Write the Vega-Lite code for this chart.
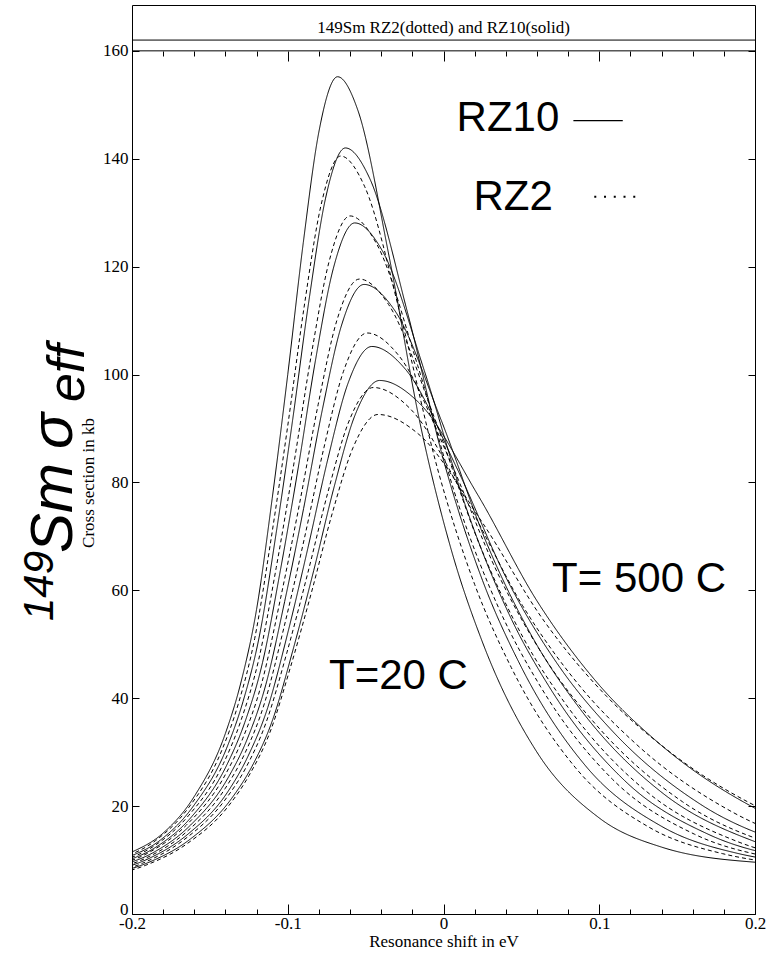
{
 "$schema": "https://vega.github.io/schema/vega-lite/v6.json",
 "width": 623, "height": 909,
 "autosize": {"type": "none"},
 "padding": {"left": 132, "top": 5, "right": 12, "bottom": 44},
 "background": "white",
 "config": {
  "view": {"stroke": "black", "strokeWidth": 1},
  "axis": {"grid": false, "domain": false, "tickColor": "black", "labelColor": "black", "titleColor": "black", "tickWidth": 1}
 },
 "datasets": {
  "curves": [
   {"c":"S1","m":"RZ10","x":-0.2,"y":11.5},{"c":"S1","m":"RZ10","x":-0.18,"y":15.0},{"c":"S1","m":"RZ10","x":-0.16,"y":21.8},{"c":"S1","m":"RZ10","x":-0.14,"y":33.5},{"c":"S1","m":"RZ10","x":-0.13,"y":43.0},{"c":"S1","m":"RZ10","x":-0.12,"y":56.5},{"c":"S1","m":"RZ10","x":-0.11,"y":77.0},{"c":"S1","m":"RZ10","x":-0.10,"y":100.0},{"c":"S1","m":"RZ10","x":-0.09,"y":124.5},{"c":"S1","m":"RZ10","x":-0.08,"y":145.0},{"c":"S1","m":"RZ10","x":-0.068,"y":155.2},{"c":"S1","m":"RZ10","x":-0.055,"y":149.0},{"c":"S1","m":"RZ10","x":-0.035,"y":122.0},{"c":"S1","m":"RZ10","x":-0.015,"y":90.9},{"c":"S1","m":"RZ10","x":0.005,"y":67.5},{"c":"S1","m":"RZ10","x":0.025,"y":50.4},{"c":"S1","m":"RZ10","x":0.06,"y":30.0},{"c":"S1","m":"RZ10","x":0.10,"y":17.8},{"c":"S1","m":"RZ10","x":0.14,"y":12.4},{"c":"S1","m":"RZ10","x":0.20,"y":9.6},
   {"c":"D1","m":"RZ2","x":-0.2061,"y":10.4},{"c":"D1","m":"RZ2","x":-0.1849,"y":13.6},{"c":"D1","m":"RZ2","x":-0.1637,"y":19.7},{"c":"D1","m":"RZ2","x":-0.1424,"y":30.3},{"c":"D1","m":"RZ2","x":-0.1318,"y":38.9},{"c":"D1","m":"RZ2","x":-0.1212,"y":51.1},{"c":"D1","m":"RZ2","x":-0.1106,"y":69.7},{"c":"D1","m":"RZ2","x":-0.1,"y":90.5},{"c":"D1","m":"RZ2","x":-0.0894,"y":112.7},{"c":"D1","m":"RZ2","x":-0.0787,"y":131.3},{"c":"D1","m":"RZ2","x":-0.066,"y":140.5},{"c":"D1","m":"RZ2","x":-0.0507,"y":134.9},{"c":"D1","m":"RZ2","x":-0.0271,"y":110.4},{"c":"D1","m":"RZ2","x":-0.0036,"y":82.3},{"c":"D1","m":"RZ2","x":0.02,"y":61.1},{"c":"D1","m":"RZ2","x":0.0435,"y":45.7},{"c":"D1","m":"RZ2","x":0.0848,"y":27.1},{"c":"D1","m":"RZ2","x":0.1319,"y":16.1},{"c":"D1","m":"RZ2","x":0.179,"y":11.2},{"c":"D1","m":"RZ2","x":0.2497,"y":8.7},
   {"c":"S2","m":"RZ10","x":-0.203,"y":10.5},{"c":"S2","m":"RZ10","x":-0.1818,"y":13.7},{"c":"S2","m":"RZ10","x":-0.1606,"y":20.0},{"c":"S2","m":"RZ10","x":-0.1393,"y":30.7},{"c":"S2","m":"RZ10","x":-0.1287,"y":39.4},{"c":"S2","m":"RZ10","x":-0.1181,"y":51.7},{"c":"S2","m":"RZ10","x":-0.1075,"y":70.5},{"c":"S2","m":"RZ10","x":-0.0969,"y":91.5},{"c":"S2","m":"RZ10","x":-0.0863,"y":113.9},{"c":"S2","m":"RZ10","x":-0.0757,"y":132.7},{"c":"S2","m":"RZ10","x":-0.063,"y":142.0},{"c":"S2","m":"RZ10","x":-0.0473,"y":136.3},{"c":"S2","m":"RZ10","x":-0.0232,"y":111.6},{"c":"S2","m":"RZ10","x":0.0009,"y":83.2},{"c":"S2","m":"RZ10","x":0.0251,"y":61.8},{"c":"S2","m":"RZ10","x":0.0492,"y":46.2},{"c":"S2","m":"RZ10","x":0.0914,"y":27.4},{"c":"S2","m":"RZ10","x":0.1397,"y":16.3},{"c":"S2","m":"RZ10","x":0.1879,"y":11.3},{"c":"S2","m":"RZ10","x":0.2603,"y":8.8},
   {"c":"D2","m":"RZ2","x":-0.209,"y":9.6},{"c":"D2","m":"RZ2","x":-0.1864,"y":12.5},{"c":"D2","m":"RZ2","x":-0.1638,"y":18.2},{"c":"D2","m":"RZ2","x":-0.1413,"y":27.9},{"c":"D2","m":"RZ2","x":-0.13,"y":35.9},{"c":"D2","m":"RZ2","x":-0.1187,"y":47.1},{"c":"D2","m":"RZ2","x":-0.1074,"y":64.2},{"c":"D2","m":"RZ2","x":-0.0961,"y":83.4},{"c":"D2","m":"RZ2","x":-0.0848,"y":103.8},{"c":"D2","m":"RZ2","x":-0.0735,"y":120.9},{"c":"D2","m":"RZ2","x":-0.06,"y":129.4},{"c":"D2","m":"RZ2","x":-0.0429,"y":124.2},{"c":"D2","m":"RZ2","x":-0.0166,"y":101.7},{"c":"D2","m":"RZ2","x":0.0097,"y":75.8},{"c":"D2","m":"RZ2","x":0.0361,"y":56.3},{"c":"D2","m":"RZ2","x":0.0624,"y":42.1},{"c":"D2","m":"RZ2","x":0.1084,"y":25.0},{"c":"D2","m":"RZ2","x":0.1611,"y":14.8},{"c":"D2","m":"RZ2","x":0.2137,"y":10.3},{"c":"D2","m":"RZ2","x":0.2926,"y":8.0},
   {"c":"S3","m":"RZ10","x":-0.2073,"y":9.5},{"c":"S3","m":"RZ10","x":-0.1846,"y":12.4},{"c":"S3","m":"RZ10","x":-0.1618,"y":18.0},{"c":"S3","m":"RZ10","x":-0.139,"y":27.7},{"c":"S3","m":"RZ10","x":-0.1276,"y":35.5},{"c":"S3","m":"RZ10","x":-0.1162,"y":46.6},{"c":"S3","m":"RZ10","x":-0.1048,"y":63.6},{"c":"S3","m":"RZ10","x":-0.0934,"y":82.5},{"c":"S3","m":"RZ10","x":-0.0821,"y":102.8},{"c":"S3","m":"RZ10","x":-0.0707,"y":119.7},{"c":"S3","m":"RZ10","x":-0.057,"y":128.1},{"c":"S3","m":"RZ10","x":-0.0394,"y":123.0},{"c":"S3","m":"RZ10","x":-0.0123,"y":100.7},{"c":"S3","m":"RZ10","x":0.0148,"y":75.1},{"c":"S3","m":"RZ10","x":0.0419,"y":55.7},{"c":"S3","m":"RZ10","x":0.069,"y":41.6},{"c":"S3","m":"RZ10","x":0.1164,"y":24.7},{"c":"S3","m":"RZ10","x":0.1706,"y":14.7},{"c":"S3","m":"RZ10","x":0.2248,"y":10.2},{"c":"S3","m":"RZ10","x":0.3061,"y":7.9},
   {"c":"D3","m":"RZ2","x":-0.2132,"y":8.7},{"c":"D3","m":"RZ2","x":-0.1891,"y":11.4},{"c":"D3","m":"RZ2","x":-0.165,"y":16.5},{"c":"D3","m":"RZ2","x":-0.1409,"y":25.4},{"c":"D3","m":"RZ2","x":-0.1288,"y":32.6},{"c":"D3","m":"RZ2","x":-0.1167,"y":42.8},{"c":"D3","m":"RZ2","x":-0.1047,"y":58.4},{"c":"D3","m":"RZ2","x":-0.0926,"y":75.8},{"c":"D3","m":"RZ2","x":-0.0805,"y":94.4},{"c":"D3","m":"RZ2","x":-0.0685,"y":110.0},{"c":"D3","m":"RZ2","x":-0.054,"y":117.7},{"c":"D3","m":"RZ2","x":-0.0353,"y":113.0},{"c":"D3","m":"RZ2","x":-0.0065,"y":92.5},{"c":"D3","m":"RZ2","x":0.0224,"y":69.0},{"c":"D3","m":"RZ2","x":0.0512,"y":51.2},{"c":"D3","m":"RZ2","x":0.08,"y":38.3},{"c":"D3","m":"RZ2","x":0.1304,"y":22.7},{"c":"D3","m":"RZ2","x":0.1881,"y":13.5},{"c":"D3","m":"RZ2","x":0.2457,"y":9.4},{"c":"D3","m":"RZ2","x":0.3322,"y":7.3},
   {"c":"S4","m":"RZ10","x":-0.2112,"y":8.7},{"c":"S4","m":"RZ10","x":-0.1869,"y":11.3},{"c":"S4","m":"RZ10","x":-0.1627,"y":16.4},{"c":"S4","m":"RZ10","x":-0.1384,"y":25.2},{"c":"S4","m":"RZ10","x":-0.1262,"y":32.3},{"c":"S4","m":"RZ10","x":-0.1141,"y":42.5},{"c":"S4","m":"RZ10","x":-0.102,"y":57.9},{"c":"S4","m":"RZ10","x":-0.0898,"y":75.2},{"c":"S4","m":"RZ10","x":-0.0777,"y":93.6},{"c":"S4","m":"RZ10","x":-0.0656,"y":109.0},{"c":"S4","m":"RZ10","x":-0.051,"y":116.7},{"c":"S4","m":"RZ10","x":-0.0316,"y":112.0},{"c":"S4","m":"RZ10","x":-0.0017,"y":91.7},{"c":"S4","m":"RZ10","x":0.0282,"y":68.4},{"c":"S4","m":"RZ10","x":0.0581,"y":50.8},{"c":"S4","m":"RZ10","x":0.088,"y":37.9},{"c":"S4","m":"RZ10","x":0.1403,"y":22.5},{"c":"S4","m":"RZ10","x":0.2001,"y":13.4},{"c":"S4","m":"RZ10","x":0.2599,"y":9.3},{"c":"S4","m":"RZ10","x":0.3496,"y":7.2},
   {"c":"D4","m":"RZ2","x":-0.2161,"y":8.0},{"c":"D4","m":"RZ2","x":-0.1908,"y":10.4},{"c":"D4","m":"RZ2","x":-0.1655,"y":15.1},{"c":"D4","m":"RZ2","x":-0.1401,"y":23.3},{"c":"D4","m":"RZ2","x":-0.1275,"y":29.8},{"c":"D4","m":"RZ2","x":-0.1148,"y":39.2},{"c":"D4","m":"RZ2","x":-0.1022,"y":53.4},{"c":"D4","m":"RZ2","x":-0.0895,"y":69.4},{"c":"D4","m":"RZ2","x":-0.0768,"y":86.4},{"c":"D4","m":"RZ2","x":-0.0642,"y":100.6},{"c":"D4","m":"RZ2","x":-0.049,"y":107.7},{"c":"D4","m":"RZ2","x":-0.0284,"y":103.4},{"c":"D4","m":"RZ2","x":0.0032,"y":84.7},{"c":"D4","m":"RZ2","x":0.0349,"y":63.1},{"c":"D4","m":"RZ2","x":0.0665,"y":46.8},{"c":"D4","m":"RZ2","x":0.0982,"y":35.0},{"c":"D4","m":"RZ2","x":0.1535,"y":20.8},{"c":"D4","m":"RZ2","x":0.2168,"y":12.4},{"c":"D4","m":"RZ2","x":0.2801,"y":8.6},{"c":"D4","m":"RZ2","x":0.3751,"y":6.7},
   {"c":"S5","m":"RZ10","x":-0.2154,"y":7.8},{"c":"S5","m":"RZ10","x":-0.1898,"y":10.2},{"c":"S5","m":"RZ10","x":-0.1641,"y":14.8},{"c":"S5","m":"RZ10","x":-0.1384,"y":22.7},{"c":"S5","m":"RZ10","x":-0.1256,"y":29.2},{"c":"S5","m":"RZ10","x":-0.1128,"y":38.3},{"c":"S5","m":"RZ10","x":-0.0999,"y":52.2},{"c":"S5","m":"RZ10","x":-0.0871,"y":67.8},{"c":"S5","m":"RZ10","x":-0.0742,"y":84.4},{"c":"S5","m":"RZ10","x":-0.0614,"y":98.3},{"c":"S5","m":"RZ10","x":-0.046,"y":105.2},{"c":"S5","m":"RZ10","x":-0.0245,"y":101.0},{"c":"S5","m":"RZ10","x":0.0085,"y":82.7},{"c":"S5","m":"RZ10","x":0.0415,"y":61.6},{"c":"S5","m":"RZ10","x":0.0745,"y":45.8},{"c":"S5","m":"RZ10","x":0.1075,"y":34.2},{"c":"S5","m":"RZ10","x":0.1652,"y":20.3},{"c":"S5","m":"RZ10","x":0.2312,"y":12.1},{"c":"S5","m":"RZ10","x":0.2972,"y":8.4},{"c":"S5","m":"RZ10","x":0.3963,"y":6.5},
   {"c":"D5","m":"RZ2","x":-0.2198,"y":7.2},{"c":"D5","m":"RZ2","x":-0.1933,"y":9.4},{"c":"D5","m":"RZ2","x":-0.1669,"y":13.7},{"c":"D5","m":"RZ2","x":-0.1404,"y":21.1},{"c":"D5","m":"RZ2","x":-0.1271,"y":27.0},{"c":"D5","m":"RZ2","x":-0.1139,"y":35.5},{"c":"D5","m":"RZ2","x":-0.1006,"y":48.4},{"c":"D5","m":"RZ2","x":-0.0874,"y":62.9},{"c":"D5","m":"RZ2","x":-0.0741,"y":78.3},{"c":"D5","m":"RZ2","x":-0.0609,"y":91.2},{"c":"D5","m":"RZ2","x":-0.045,"y":97.6},{"c":"D5","m":"RZ2","x":-0.0215,"y":93.7},{"c":"D5","m":"RZ2","x":0.0146,"y":76.7},{"c":"D5","m":"RZ2","x":0.0507,"y":57.2},{"c":"D5","m":"RZ2","x":0.0868,"y":42.5},{"c":"D5","m":"RZ2","x":0.1229,"y":31.7},{"c":"D5","m":"RZ2","x":0.1861,"y":18.8},{"c":"D5","m":"RZ2","x":0.2583,"y":11.2},{"c":"D5","m":"RZ2","x":0.3305,"y":7.8},{"c":"D5","m":"RZ2","x":0.4388,"y":6.0},
   {"c":"S6","m":"RZ10","x":-0.2154,"y":7.3},{"c":"S6","m":"RZ10","x":-0.189,"y":9.6},{"c":"S6","m":"RZ10","x":-0.1625,"y":13.9},{"c":"S6","m":"RZ10","x":-0.1361,"y":21.4},{"c":"S6","m":"RZ10","x":-0.1229,"y":27.4},{"c":"S6","m":"RZ10","x":-0.1097,"y":36.0},{"c":"S6","m":"RZ10","x":-0.0965,"y":49.1},{"c":"S6","m":"RZ10","x":-0.0833,"y":63.7},{"c":"S6","m":"RZ10","x":-0.0701,"y":79.3},{"c":"S6","m":"RZ10","x":-0.0569,"y":92.4},{"c":"S6","m":"RZ10","x":-0.041,"y":98.9},{"c":"S6","m":"RZ10","x":-0.0162,"y":94.9},{"c":"S6","m":"RZ10","x":0.022,"y":77.7},{"c":"S6","m":"RZ10","x":0.0601,"y":58.0},{"c":"S6","m":"RZ10","x":0.0983,"y":43.0},{"c":"S6","m":"RZ10","x":0.1365,"y":32.1},{"c":"S6","m":"RZ10","x":0.2033,"y":19.1},{"c":"S6","m":"RZ10","x":0.2796,"y":11.3},{"c":"S6","m":"RZ10","x":0.3559,"y":7.9},{"c":"S6","m":"RZ10","x":0.4705,"y":6.1},
   {"c":"D6","m":"RZ2","x":-0.2182,"y":6.9},{"c":"D6","m":"RZ2","x":-0.1915,"y":9.0},{"c":"D6","m":"RZ2","x":-0.1648,"y":13.0},{"c":"D6","m":"RZ2","x":-0.1381,"y":20.0},{"c":"D6","m":"RZ2","x":-0.1248,"y":25.7},{"c":"D6","m":"RZ2","x":-0.1114,"y":33.7},{"c":"D6","m":"RZ2","x":-0.0981,"y":45.9},{"c":"D6","m":"RZ2","x":-0.0847,"y":59.7},{"c":"D6","m":"RZ2","x":-0.0714,"y":74.3},{"c":"D6","m":"RZ2","x":-0.058,"y":86.5},{"c":"D6","m":"RZ2","x":-0.042,"y":92.6},{"c":"D6","m":"RZ2","x":-0.0158,"y":88.9},{"c":"D6","m":"RZ2","x":0.0244,"y":72.8},{"c":"D6","m":"RZ2","x":0.0646,"y":54.3},{"c":"D6","m":"RZ2","x":0.1049,"y":40.3},{"c":"D6","m":"RZ2","x":0.1451,"y":30.1},{"c":"D6","m":"RZ2","x":0.2155,"y":17.9},{"c":"D6","m":"RZ2","x":0.296,"y":10.6},{"c":"D6","m":"RZ2","x":0.3765,"y":7.4},{"c":"D6","m":"RZ2","x":0.4972,"y":5.7}
  ],
  "rules": [{"y": 160}, {"y": 162}],
  "title": [{"x": 0, "y": 163.4, "t": "149Sm RZ2(dotted) and RZ10(solid)"}],
  "labels": [
   {"x": 0.0084, "y": 145.2, "t": "RZ10"},
   {"x": 0.0192, "y": 130.5, "t": "RZ2"},
   {"x": 0.0697, "y": 59.7, "t": "T= 500 C"},
   {"x": -0.0735, "y": 41.7, "t": "T=20 C"}
  ],
  "legsolid": [{"x": 0.0834, "x2": 0.1151, "y": 147.05}],
  "legdot": [{"x": 0.0968, "x2": 0.1235, "y": 132.96}],
  "bigA": [{"x": -0.2387, "y": 66.9, "t": "Sm"}, {"x": -0.2387, "y": 86.2, "t": "σ"}],
  "bigB": [{"x": -0.2505, "y": 54.3, "t": "149"}],
  "bigC": [{"x": -0.2308, "y": 94.9, "t": "eff"}]
 },
 "layer": [
  {
   "data": {"name": "curves"},
   "mark": {"type": "line", "interpolate": "monotone", "clip": true, "color": "black", "strokeWidth": 1},
   "encoding": {
    "x": {"field": "x", "type": "quantitative", "scale": {"domain": [-0.2, 0.2], "nice": false, "zero": false},
     "axis": {"orient": "bottom", "values": [-0.2,-0.18,-0.16,-0.14,-0.12,-0.1,-0.08,-0.06,-0.04,-0.02,0,0.02,0.04,0.06,0.08,0.1,0.12,0.14,0.16,0.18,0.2],
      "labelExpr": "abs(datum.value*10 - round(datum.value*10)) < 0.001 ? toString(datum.value) : ''",
      "tickSize": {"condition": {"test": "abs(datum.value*10 - round(datum.value*10)) < 0.001", "value": -10}, "value": -5},
      "labelPadding": 24, "labelBaseline": "alphabetic", "labelFont": "Liberation Serif", "labelFontSize": 17,
      "labelOverlap": false, "labelFlush": false,
      "title": "Resonance shift in eV", "titleFont": "Liberation Serif", "titleFontSize": 17, "titleFontWeight": "normal",
      "titleBaseline": "alphabetic", "titleY": 32}},
    "y": {"field": "y", "type": "quantitative", "scale": {"domain": [0, 168.5], "nice": false, "zero": false},
     "axis": {"orient": "left", "values": [0,20,40,60,80,100,120,140,160], "tickSize": -7, "labelPadding": 11,
      "labelBaseline": {"condition": {"test": "datum.value === 0", "value": "alphabetic"}, "value": "middle"},
      "labelFont": "Liberation Serif", "labelFontSize": 17, "labelOverlap": false, "labelFlush": false,
      "title": "Cross section in kb", "titleFont": "Liberation Serif", "titleFontSize": 17, "titleFontWeight": "normal",
      "titleAngle": 270, "titleAlign": "center", "titleBaseline": "alphabetic", "titleX": -39, "titleY": 477.5}},
    "detail": {"field": "c"},
    "strokeDash": {"field": "m", "type": "nominal", "scale": {"domain": ["RZ10", "RZ2"], "range": [[1, 0], [4, 3]]}, "legend": null}
   }
  },
  {
   "data": {"name": "rules"},
   "mark": {"type": "rule", "color": "black", "strokeWidth": 1},
   "encoding": {
    "y": {"field": "y", "type": "quantitative", "scale": {"domain": [0, 168.5], "nice": false, "zero": false}, "axis": null}
   }
  },
  {
   "data": {"name": "title"},
   "mark": {"type": "text", "font": "Liberation Serif", "fontSize": 17, "align": "center", "baseline": "alphabetic", "color": "black"},
   "encoding": {
    "x": {"field": "x", "type": "quantitative", "scale": {"domain": [-0.2, 0.2], "nice": false, "zero": false}, "axis": null},
    "y": {"field": "y", "type": "quantitative", "scale": {"domain": [0, 168.5], "nice": false, "zero": false}, "axis": null},
    "text": {"field": "t"}
   }
  },
  {
   "data": {"name": "labels"},
   "mark": {"type": "text", "font": "Liberation Sans", "fontSize": 42, "align": "left", "baseline": "alphabetic", "color": "black"},
   "encoding": {
    "x": {"field": "x", "type": "quantitative", "scale": {"domain": [-0.2, 0.2], "nice": false, "zero": false},
     "axis": {"orient": "top", "offset": -46, "values": [-0.2,-0.18,-0.16,-0.14,-0.12,-0.1,-0.08,-0.06,-0.04,-0.02,0,0.02,0.04,0.06,0.08,0.1,0.12,0.14,0.16,0.18,0.2],
      "labels": false, "title": null,
      "tickSize": {"condition": {"test": "abs(datum.value*10 - round(datum.value*10)) < 0.001", "value": -10}, "value": -5}}},
    "y": {"field": "y", "type": "quantitative", "scale": {"domain": [0, 168.5], "nice": false, "zero": false},
     "axis": {"orient": "right", "values": [0,20,40,60,80,100,120,140,160], "labels": false, "title": null, "tickSize": -7}},
    "text": {"field": "t"}
   }
  },
  {
   "data": {"name": "legsolid"},
   "mark": {"type": "rule", "color": "black", "strokeWidth": 1.3},
   "encoding": {
    "x": {"field": "x", "type": "quantitative", "scale": {"domain": [-0.2, 0.2], "nice": false, "zero": false}, "axis": null},
    "x2": {"field": "x2"},
    "y": {"field": "y", "type": "quantitative", "scale": {"domain": [0, 168.5], "nice": false, "zero": false}, "axis": null}
   }
  },
  {
   "data": {"name": "legdot"},
   "mark": {"type": "rule", "color": "black", "strokeWidth": 2, "strokeDash": [2, 7.75]},
   "encoding": {
    "x": {"field": "x", "type": "quantitative", "scale": {"domain": [-0.2, 0.2], "nice": false, "zero": false}, "axis": null},
    "x2": {"field": "x2"},
    "y": {"field": "y", "type": "quantitative", "scale": {"domain": [0, 168.5], "nice": false, "zero": false}, "axis": null}
   }
  },
  {
   "data": {"name": "bigA"},
   "mark": {"type": "text", "font": "Liberation Sans", "fontStyle": "italic", "fontSize": 60, "angle": 270, "align": "left", "baseline": "alphabetic", "color": "black"},
   "encoding": {
    "x": {"field": "x", "type": "quantitative", "scale": {"domain": [-0.2, 0.2], "nice": false, "zero": false}, "axis": null},
    "y": {"field": "y", "type": "quantitative", "scale": {"domain": [0, 168.5], "nice": false, "zero": false}, "axis": null},
    "text": {"field": "t"}
   }
  },
  {
   "data": {"name": "bigB"},
   "mark": {"type": "text", "font": "Liberation Sans", "fontStyle": "italic", "fontSize": 42, "angle": 270, "align": "left", "baseline": "alphabetic", "color": "black"},
   "encoding": {
    "x": {"field": "x", "type": "quantitative", "scale": {"domain": [-0.2, 0.2], "nice": false, "zero": false}, "axis": null},
    "y": {"field": "y", "type": "quantitative", "scale": {"domain": [0, 168.5], "nice": false, "zero": false}, "axis": null},
    "text": {"field": "t"}
   }
  },
  {
   "data": {"name": "bigC"},
   "mark": {"type": "text", "font": "Liberation Sans", "fontStyle": "italic", "fontSize": 52, "angle": 270, "align": "left", "baseline": "alphabetic", "color": "black"},
   "encoding": {
    "x": {"field": "x", "type": "quantitative", "scale": {"domain": [-0.2, 0.2], "nice": false, "zero": false}, "axis": null},
    "y": {"field": "y", "type": "quantitative", "scale": {"domain": [0, 168.5], "nice": false, "zero": false}, "axis": null},
    "text": {"field": "t"}
   }
  }
 ],
 "resolve": {"axis": {"x": "independent", "y": "independent"}}
}
